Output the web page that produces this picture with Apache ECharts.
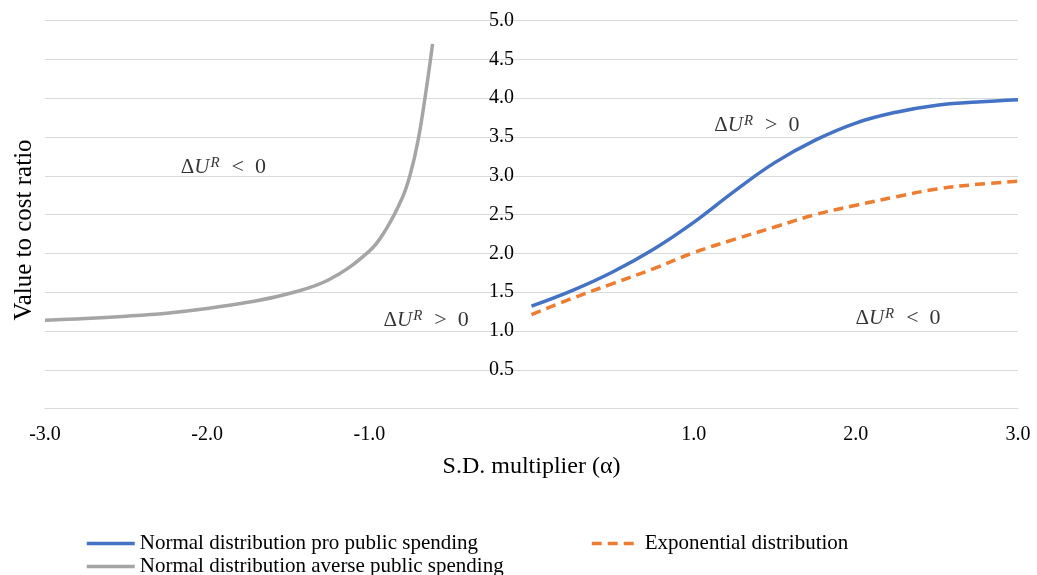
<!DOCTYPE html>
<html><head><meta charset="utf-8">
<script src="https://cdn.jsdelivr.net/npm/echarts@6/dist/echarts.min.js"></script>
<style>html,body{margin:0;padding:0;background:#fff}#c{width:1037px;height:575px}</style>
</head><body><div id="c"></div>
<script>
// ---- data ----
const seriesNames = ['Normal distribution pro public spending', 'Exponential distribution', 'Normal distribution averse public spending'];
const proX = [0, 0.25, 0.5, 0.75, 1.0, 1.25, 1.5, 1.75, 2.0, 2.25, 2.5, 2.75, 3.0];
const proY = [1.32, 1.52, 1.76, 2.05, 2.40, 2.80, 3.17, 3.46, 3.68, 3.82, 3.91, 3.95, 3.98];
const expX = [0, 0.25, 0.5, 0.75, 1.0, 1.25, 1.5, 1.75, 2.0, 2.25, 2.5, 2.75, 3.0];
const expY = [1.21, 1.42, 1.61, 1.80, 2.01, 2.18, 2.34, 2.50, 2.62, 2.73, 2.83, 2.89, 2.93];
const avX = [-3.0, -2.75, -2.5, -2.25, -2.0, -1.75, -1.5, -1.25, -1.0, -0.9, -0.8, -0.75, -0.7, -0.65, -0.61];
const avY = [1.14, 1.16, 1.19, 1.23, 1.29, 1.37, 1.48, 1.66, 2.03, 2.30, 2.70, 3.00, 3.45, 4.10, 4.70];
const annX = [-1.90, -0.65, 1.39, 2.26];
const annY = [3.11, 1.14, 3.65, 1.16];
const annSign = ['<', '>', '>', '<'];
const xTitle = 'S.D. multiplier (α)';
const yTitle = 'Value to cost ratio';

const zip = (xs, ys) => xs.map((x, i) => [x, ys[i]]);
const serif = 'Liberation Serif';
const fmt = v => (Math.abs(v) < 1e-9 ? '' : v.toFixed(1));
const gridLeft = 45;

const chart = echarts.init(document.getElementById('c'));
const lineBase = {type: 'line', symbol: 'none', showSymbol: false, smooth: 0.4, silent: true};
const legendBase = {itemWidth: 48, itemHeight: 14, padding: 0, selectedMode: false,
  itemStyle: {opacity: 0}, lineStyle: {width: 3.5},
  textStyle: {fontFamily: serif, fontSize: 21, color: '#000'}};
chart.setOption({
  animation: false,
  grid: {left: gridLeft, right: 19, top: 20.6, bottom: 166.4, containLabel: false},
  xAxis: {
    type: 'value', min: -3, max: 3, interval: 1,
    axisLine: {show: true, onZero: true, lineStyle: {color: '#d9d9d9', width: 1}},
    axisTick: {show: false}, splitLine: {show: false},
    axisLabel: {formatter: fmt, fontFamily: serif, fontSize: 20, color: '#000', margin: 16},
    name: xTitle, nameLocation: 'middle', nameGap: 46,
    nameTextStyle: {fontFamily: serif, fontSize: 24, color: '#000'}
  },
  yAxis: {
    type: 'value', min: 0, max: 5, interval: 0.5, position: 'left', offset: 0,
    axisLine: {show: false, onZero: false}, axisTick: {show: false},
    splitLine: {show: true, lineStyle: {color: '#d9d9d9', width: 1}},
    axisLabel: {formatter: fmt, fontFamily: serif, fontSize: 20, color: '#000', margin: 18}
  },
  graphic: [{
    type: 'text', x: 24, y: 230, rotation: Math.PI / 2,
    style: {text: yTitle, font: '25px "Liberation Serif"', fill: '#000', align: 'center', verticalAlign: 'middle'}
  }],
  legend: [
    Object.assign({}, legendBase, {data: [seriesNames[0]], left: 85, top: 533}),
    Object.assign({}, legendBase, {data: [seriesNames[1]], left: 590, top: 533}),
    Object.assign({}, legendBase, {data: [seriesNames[2]], left: 85, top: 556})
  ],
  series: [
    Object.assign({}, lineBase, {name: seriesNames[0], data: zip(proX, proY),
      lineStyle: {color: '#4472C4', width: 3.5}, itemStyle: {color: '#4472C4'}}),
    Object.assign({}, lineBase, {name: seriesNames[1], data: zip(expX, expY),
      lineStyle: {color: '#ED7D31', width: 3.5, type: [10, 6]}, itemStyle: {color: '#ED7D31'}}),
    Object.assign({}, lineBase, {name: seriesNames[2], data: zip(avX, avY),
      lineStyle: {color: '#A5A5A5', width: 3.5}, itemStyle: {color: '#A5A5A5'}}),
    {
      type: 'scatter', name: 'ann', silent: true, symbolSize: 1,
      itemStyle: {color: 'rgba(0,0,0,0)'},
      data: annX.map((x, i) => ({value: [x, annY[i]], sign: annSign[i]})),
      label: {
        show: true, position: 'inside',
        formatter: p => '{d|Δ}{u|U}{s|R}{o|\u2002' + p.data.sign + '\u2002' + '0}',
        rich: {
          d: {fontFamily: serif, fontSize: 21, color: '#000', lineHeight: 24},
          u: {fontFamily: serif, fontSize: 21, fontStyle: 'italic', color: '#000', lineHeight: 24},
          s: {fontFamily: serif, fontSize: 15, fontStyle: 'italic', color: '#000', verticalAlign: 'top', lineHeight: 24, padding: [0, 1, 10, 1]},
          o: {fontFamily: serif, fontSize: 22, color: '#000', lineHeight: 24}
        }
      }
    }
  ]
});
// place the y axis (and its labels) where x = 0, via the x axis scale
const zeroPx = chart.convertToPixel({xAxisIndex: 0}, 0);
chart.setOption({yAxis: {offset: -(zeroPx - gridLeft)}});
</script></body></html>
